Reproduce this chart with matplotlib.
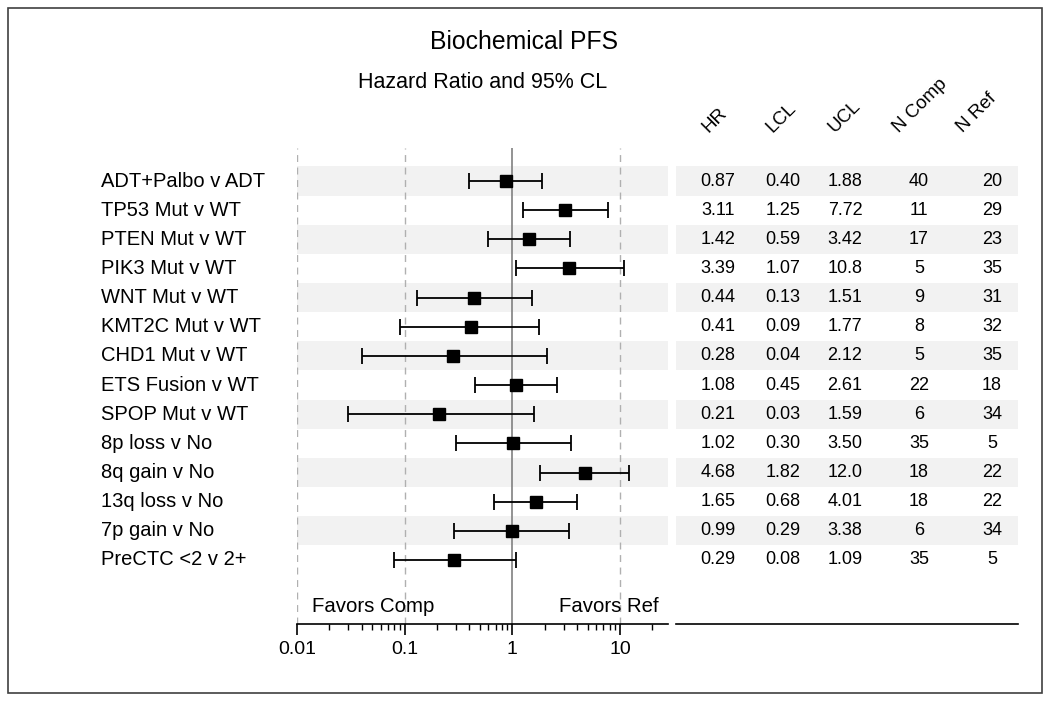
import matplotlib
matplotlib.use("Agg")
import matplotlib.pyplot as plt
import numpy as np
from matplotlib.transforms import blended_transform_factory
from matplotlib.patches import Rectangle
from matplotlib.ticker import LogLocator, NullFormatter, FixedFormatter, FixedLocator

plt.rcParams['font.family'] = ['Liberation Sans', 'DejaVu Sans']

labels = ["ADT+Palbo v ADT", "TP53 Mut v WT", "PTEN Mut v WT", "PIK3 Mut v WT",
          "WNT Mut v WT", "KMT2C Mut v WT", "CHD1 Mut v WT", "ETS Fusion v WT",
          "SPOP Mut v WT", "8p loss v No", "8q gain v No", "13q loss v No",
          "7p gain v No", "PreCTC <2 v 2+"]
hr = [0.87, 3.11, 1.42, 3.39, 0.44, 0.41, 0.28, 1.08, 0.21, 1.02, 4.68, 1.65, 0.99, 0.29]
lcl = [0.40, 1.25, 0.59, 1.07, 0.13, 0.09, 0.04, 0.45, 0.03, 0.30, 1.82, 0.68, 0.29, 0.08]
ucl = [1.88, 7.72, 3.42, 10.8, 1.51, 1.77, 2.12, 2.61, 1.59, 3.50, 12.0, 4.01, 3.38, 1.09]
n_comp = [40, 11, 17, 5, 9, 8, 5, 22, 6, 35, 18, 18, 6, 35]
n_ref = [20, 29, 23, 35, 31, 32, 35, 18, 34, 5, 22, 22, 34, 5]
hr_txt = ["0.87", "3.11", "1.42", "3.39", "0.44", "0.41", "0.28", "1.08", "0.21", "1.02", "4.68", "1.65", "0.99", "0.29"]
lcl_txt = ["0.40", "1.25", "0.59", "1.07", "0.13", "0.09", "0.04", "0.45", "0.03", "0.30", "1.82", "0.68", "0.29", "0.08"]
ucl_txt = ["1.88", "7.72", "3.42", "10.8", "1.51", "1.77", "2.12", "2.61", "1.59", "3.50", "12.0", "4.01", "3.38", "1.09"]
headers = ["HR", "LCL", "UCL", "N Comp", "N Ref"]
xticks = [0.01, 0.1, 1, 10]
xtick_labels = ["0.01", "0.1", "1", "10"]

W, H = 1050, 701
fig = plt.figure(figsize=(W / 100, H / 100), dpi=100)

def fx(px):
    return px / W

def fy(py):
    return 1 - py / H

row0, step = 181, 29.15
y_top, y_bot = 148, 624
ylim = ((y_bot - row0) / step, (y_top - row0) / step)

ax = fig.add_axes([fx(297), fy(y_bot), fx(668) - fx(297), fy(y_top) - fy(y_bot)])
ax.set_xscale('log')
ax.set_xlim(0.01, 10 ** (1 + 48 / 107.7))
ax.set_ylim(*ylim)
n = len(labels)
y = np.arange(n)

for i in range(0, n, 2):
    ax.axhspan(i - 0.5, i + 0.5, color='#f2f2f2', zorder=0, lw=0)

for v in [0.01, 0.1, 10]:
    ax.axvline(v, color='#b0b0b0', lw=1, ls=(0, (5, 4)), zorder=1)
ax.axvline(1, color='#808080', lw=1.2, zorder=1)

hr_a = np.array(hr)
err = np.vstack([hr_a - np.array(lcl), np.array(ucl) - hr_a])
ax.errorbar(hr, y, xerr=err, fmt='s', color='black', ms=9, elinewidth=1.3,
            capsize=6, capthick=1.3, zorder=3)

for s in ['top', 'right', 'left']:
    ax.spines[s].set_visible(False)
ax.spines['bottom'].set_linewidth(1.2)
ax.set_yticks([])
ax.xaxis.set_major_locator(FixedLocator(xticks))
ax.xaxis.set_major_formatter(FixedFormatter(xtick_labels))
ax.xaxis.set_minor_locator(LogLocator(base=10, subs=np.arange(2, 10)))
ax.xaxis.set_minor_formatter(NullFormatter())
ax.tick_params(axis='x', which='major', length=8, width=1.2, labelsize=14, pad=4)
ax.tick_params(axis='x', which='minor', length=4, width=1)

trans = blended_transform_factory(fig.transFigure, ax.transData)
for i, lab in enumerate(labels):
    ax.text(fx(101), i, lab, transform=trans, ha='left', va='center', fontsize=14.5)

fav_y = (606 - row0) / step
ax.text(fx(312), fav_y, "Favors Comp", transform=trans, ha='left', va='center', fontsize=14.7)
ax.text(fx(659), fav_y, "Favors Ref", transform=trans, ha='right', va='center', fontsize=14.7)

# table
tab = fig.add_axes([fx(676), fy(y_bot), fx(1018) - fx(676), fy(y_top) - fy(y_bot)])
tab.set_xlim(676, 1018)
tab.set_ylim(*ylim)
for i in range(0, n, 2):
    tab.axhspan(i - 0.5, i + 0.5, color='#f2f2f2', zorder=0, lw=0)
for s in ['top', 'right', 'left']:
    tab.spines[s].set_visible(False)
tab.spines['bottom'].set_linewidth(1.2)
tab.set_xticks([])
tab.set_yticks([])

col_x = [718, 783, 845, 919, 992]
cols = [hr_txt, lcl_txt, ucl_txt, [str(v) for v in n_comp], [str(v) for v in n_ref]]
for cx, col in zip(col_x, cols):
    for i, t in enumerate(col):
        tab.text(cx, i, t, ha='center', va='center', fontsize=13)

head_x = [708, 772, 834, 899, 963]
for hx, h in zip(head_x, headers):
    fig.text(fx(hx), fy(133), h, rotation=45, rotation_mode='anchor',
             ha='left', va='baseline', fontsize=13.5)

fig.text(fx(524), fy(42), "Biochemical PFS", ha='center', va='center', fontsize=17.8)
fig.text(fx(483), fy(83), "Hazard Ratio and 95% CL", ha='center', va='center', fontsize=15.5)

fig.patches.append(Rectangle((fx(8), fy(693)), fx(1042) - fx(8), fy(8) - fy(693),
                             transform=fig.transFigure, fill=False, ec='#404040', lw=1.2))

fig.savefig("out.png", dpi=100)
